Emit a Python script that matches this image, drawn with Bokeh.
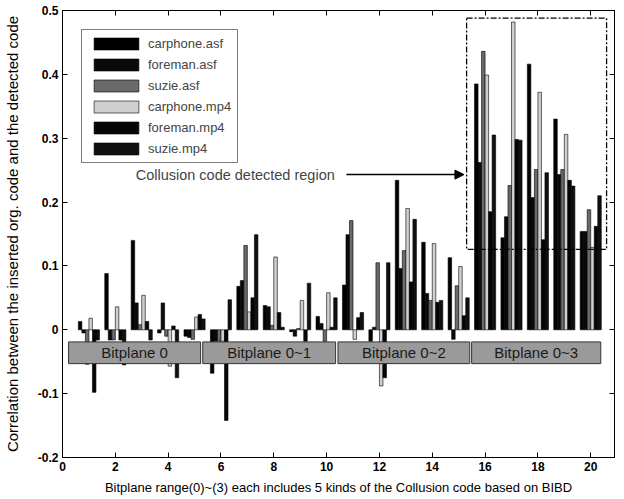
from bokeh.plotting import figure
from bokeh.models import (ColumnDataSource, FixedTicker, LinearAxis, Label, Arrow,
                          NormalHead, Range1d)
from bokeh.core.properties import value
from bokeh.embed import file_html
from bokeh.resources import INLINE

groups = list(range(1, 21))
series_names = ["carphone.asf", "foreman.asf", "suzie.asf",
                "carphone.mp4", "foreman.mp4", "suzie.mp4"]

carphone_asf = [0.013, 0.088, 0.140, -0.005, -0.010, -0.068, 0.068, 0.038, -0.003, 0.021,
                0.070, -0.018, 0.234, 0.137, 0.113, 0.385, 0.144, 0.416, 0.330, 0.154]
foreman_asf = [-0.005, -0.016, 0.042, 0.042, -0.012, -0.018, 0.077, 0.036, -0.010, 0.010,
               0.149, 0.004, 0.096, 0.057, -0.015, 0.262, 0.177, 0.207, 0.243, 0.154]
suzie_asf = [-0.054, -0.016, 0.008, -0.010, -0.015, -0.018, 0.132, 0.007, 0.002, -0.018,
             0.171, 0.105, 0.124, 0.046, 0.069, 0.436, 0.226, 0.251, 0.251, 0.188]
carphone_mp4 = [0.018, 0.036, 0.054, -0.057, 0.020, -0.018, 0.028, 0.114, 0.046, 0.058,
                -0.015, -0.088, 0.190, 0.135, 0.099, 0.399, 0.482, 0.372, 0.306, 0.129]
foreman_mp4 = [-0.098, -0.016, 0.013, 0.006, 0.024, -0.142, 0.050, 0.027, -0.018, 0.004,
               0.019, -0.075, 0.075, 0.043, 0.022, 0.185, 0.298, 0.141, 0.234, 0.162]
suzie_mp4 = [-0.016, -0.055, -0.016, -0.075, 0.017, 0.047, 0.149, 0.004, 0.073, 0.050,
             0.027, 0.105, 0.173, 0.046, 0.050, 0.305, 0.297, 0.246, 0.225, 0.210]

series_values = [carphone_asf, foreman_asf, suzie_asf, carphone_mp4, foreman_mp4, suzie_mp4]
series_colors = ["#000000", "#0a0a0a", "#6a6a6a", "#cfcfcf", "#050505", "#101010"]

y_ticks = [-0.2, -0.1, 0, 0.1, 0.2, 0.3, 0.4, 0.5]
y_tick_labels = ["-0.2", "-0.1", "0", "0.1", "0.2", "0.3", "0.4", "0.5"]
x_ticks = [0, 2, 4, 6, 8, 10, 12, 14, 16, 18, 20]

bitplane_labels = ["Bitplane 0", "Bitplane 0~1", "Bitplane 0~2", "Bitplane 0~3"]
bitplane_left = [0.23, 5.31, 10.43, 15.49]
bitplane_right = [5.23, 10.34, 15.42, 20.38]
bitplane_bottom = -0.053
bitplane_top = -0.019

region_box = dict(left=15.3, right=20.6, bottom=0.126, top=0.488)
annotation_text = "Collusion code detected region"

FONT = "Liberation Sans"

p = figure(width=624, height=499, output_backend="svg", toolbar_location=None,
           x_range=Range1d(0, 20.9), y_range=Range1d(-0.2, 0.5),
           min_border_left=62, min_border_right=10, min_border_top=10, min_border_bottom=42)
p.xgrid.visible = False
p.ygrid.visible = False
p.outline_line_color = "black"
p.outline_line_width = 1

n = len(series_names)
bw = 0.8 / n
for i, (name, vals, col) in enumerate(zip(series_names, series_values, series_colors)):
    xs = [g + (i - (n - 1) / 2) * bw for g in groups]
    src = ColumnDataSource(dict(x=xs, top=vals))
    p.vbar(x="x", top="top", bottom=0, width=bw, source=src, fill_color=col,
           line_color="black", line_width=0.6, legend_label=name)

# bitplane boxes
bsrc = ColumnDataSource(dict(left=bitplane_left, right=bitplane_right,
                             bottom=[bitplane_bottom] * 4, top=[bitplane_top] * 4,
                             cx=[(a + b) / 2 for a, b in zip(bitplane_left, bitplane_right)],
                             cy=[(bitplane_bottom + bitplane_top) / 2] * 4,
                             label=bitplane_labels))
p.quad(left="left", right="right", bottom="bottom", top="top", source=bsrc,
       fill_color="#9a9a9a", line_color="#333333", line_width=1)
p.text(x="cx", y="cy", text="label", source=bsrc, text_align="center",
       text_baseline="middle", text_font=value(FONT), text_font_size="15px",
       text_color="#1a1a1a")

# detected region box
p.quad(left=[region_box["left"]], right=[region_box["right"]],
       bottom=[region_box["bottom"]], top=[region_box["top"]],
       fill_alpha=0, line_color="black", line_width=1.3, line_dash="6 2 2 2")

p.add_layout(Label(x=2.77, y=0.243, text=annotation_text, text_font=FONT,
                   text_font_size="14.5px", text_baseline="middle"))
p.add_layout(Arrow(end=NormalHead(size=9, fill_color="black", line_color="black"),
                   x_start=10.75, y_start=0.243, x_end=15.2, y_end=0.243,
                   line_color="black", line_width=1.5))

# axes
p.yaxis.ticker = FixedTicker(ticks=y_ticks)
p.yaxis.major_label_overrides = {t: l for t, l in zip(y_ticks, y_tick_labels)}
p.xaxis.ticker = FixedTicker(ticks=x_ticks)
for ax in (p.xaxis[0], p.yaxis[0]):
    ax.major_tick_in = 5
    ax.major_tick_out = 0
    ax.minor_tick_in = 0
    ax.minor_tick_out = 0
    ax.major_label_text_font = FONT
    ax.major_label_text_font_size = "12px"
    ax.major_label_text_font_style = "bold"
    ax.major_label_text_color = "black"
    ax.axis_label_text_font = FONT
    ax.axis_label_text_font_style = "normal"
    ax.axis_label_text_color = "black"
    ax.axis_line_color = "black"
p.xaxis.axis_label = "Bitplane range(0)~(3) each includes 5 kinds of the Collusion code based on BIBD"
p.xaxis.axis_label_text_font_size = "13px"
p.xaxis.axis_label_standoff = 6
p.xaxis.major_label_standoff = 4
p.yaxis.axis_label = "Correlation between the inserted org. code and the detected code"
p.yaxis.axis_label_text_font_size = "15px"
p.yaxis.axis_label_standoff = 14
p.yaxis.major_label_standoff = 4

for side, tk in (("right", y_ticks), ("above", x_ticks)):
    ax = LinearAxis(ticker=FixedTicker(ticks=tk), major_tick_in=5, major_tick_out=0,
                    minor_tick_in=0, minor_tick_out=0,
                    major_label_overrides={t: "" for t in tk},
                    axis_line_color="black", major_label_standoff=0)
    p.add_layout(ax, side)

lg = p.legend[0]
lg.location = "top_left"
lg.margin = 19
lg.glyph_width = 56
lg.glyph_height = 15
lg.label_height = 15
lg.spacing = 6
lg.padding = 6
lg.label_text_font = FONT
lg.label_text_font_size = "13px"
lg.border_line_color = "black"
lg.border_line_width = 1
lg.background_fill_color = "white"
lg.background_fill_alpha = 1
lg.label_standoff = 4

open("out.html", "w").write(file_html(p, INLINE))
